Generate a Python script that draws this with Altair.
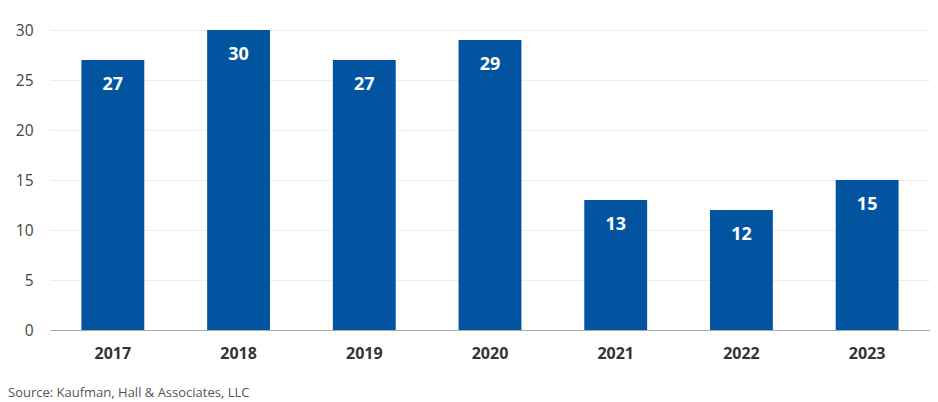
import altair as alt
import pandas as pd

years = ["2017", "2018", "2019", "2020", "2021", "2022", "2023"]
values = [27, 30, 27, 29, 13, 12, 15]
source_text = "Source: Kaufman, Hall & Associates, LLC"

df = pd.DataFrame({"year": years, "value": values})

FONT = "Open Sans"
BLUE = "#0254A0"

base = alt.Chart(df).encode(
    x=alt.X("year:N", sort=years,
            scale=alt.Scale(paddingInner=0.5, paddingOuter=0.25),
            axis=alt.Axis(title=None, labelAngle=0, labelFont=FONT, labelFontSize=16,
                          labelFontWeight="bold", labelColor="#333333", labelPadding=15,
                          ticks=False, domainColor="#aaaaaa", domainWidth=1.2, grid=False)),
)

bars = base.mark_bar(color=BLUE).encode(
    y=alt.Y("value:Q", scale=alt.Scale(domain=[0, 32.2], nice=False),
            axis=alt.Axis(title=None, values=[0, 5, 10, 15, 20, 25, 30], labelFont=FONT,
                          labelFontSize=15.5, labelColor="#444444", labelPadding=17,
                          ticks=False, domain=False, gridColor="#eeeeee", gridWidth=1)),
)

labels = base.mark_text(color="white", font=FONT, fontSize=18, fontWeight="bold",
                        baseline="middle", dy=25).encode(
    y=alt.Y("value:Q"),
    text=alt.Text("value:Q"),
)

chart = alt.layer(bars, labels).properties(
    width=880,
    height=322,
    autosize=alt.AutoSizeParams(type="none"),
    padding={"left": 42, "top": 0, "right": 0, "bottom": 70},
    title=alt.TitleParams(source_text, orient="bottom", anchor="start", frame="group",
                          dx=-42, offset=26, font=FONT, fontSize=13, fontWeight="normal",
                          color="#555555"),
).configure_view(stroke=None)

chart.save("out.html", embed_options={"renderer": "svg", "actions": False})
